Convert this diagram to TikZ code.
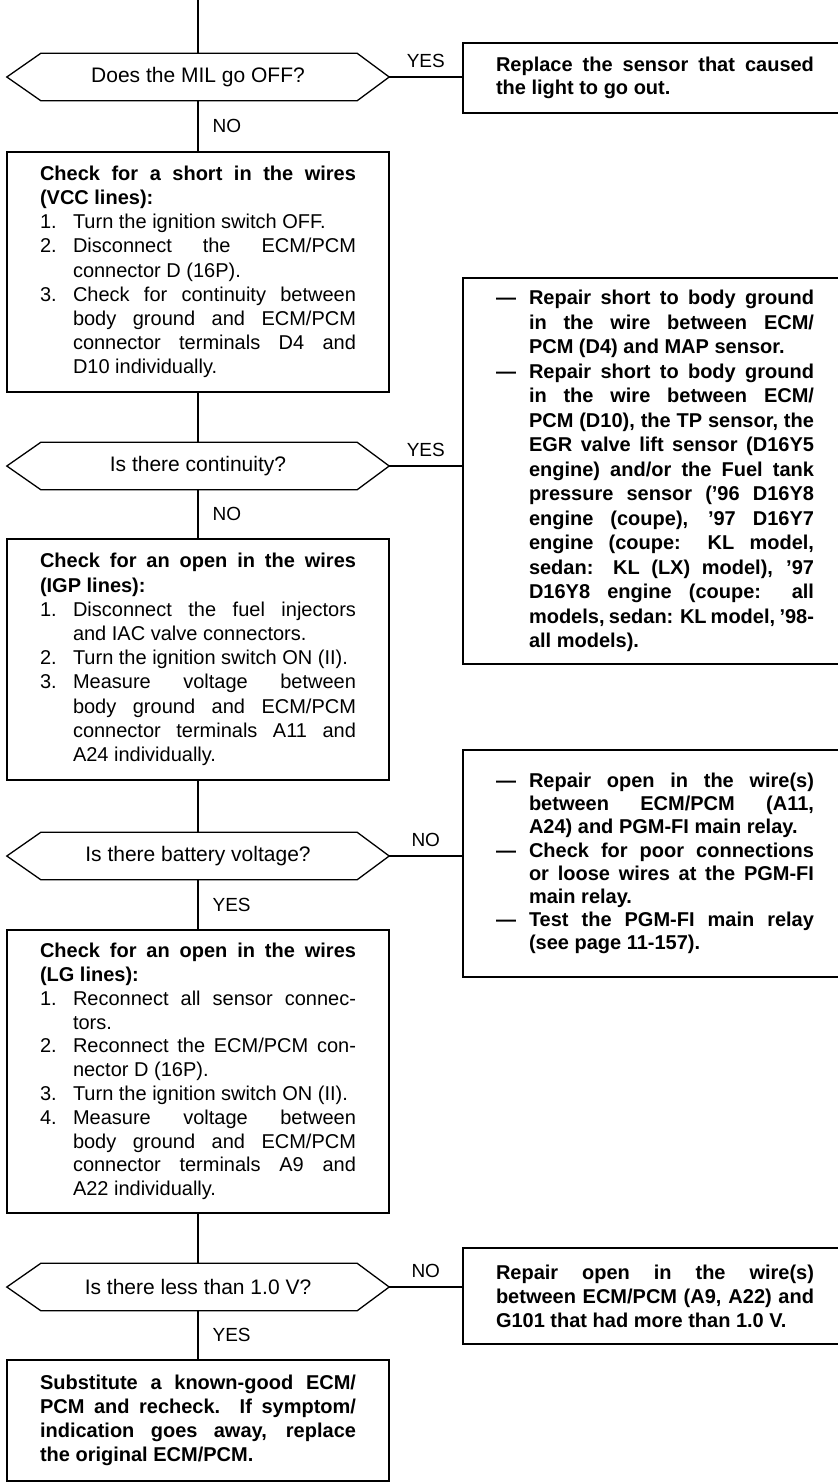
\documentclass[tikz,border=0pt]{standalone}
\usepackage{fontspec}
\setmainfont{Liberation Sans}
\newdimen\itemind
\itemind=33pt
\newcommand\tb[3]{\vbox{\hsize=#1\relax\baselineskip=#2\relax\lineskiplimit=-20pt\lineskip=0pt #3}}
\newcommand\LnJ[1]{\hbox to\hsize{#1}}
\newcommand\LnL[1]{\hbox to\hsize{#1\hfil}}
\newcommand\ItJ[2]{\hbox to\hsize{\hbox to\itemind{#1\hfil}#2}}
\newcommand\ItL[2]{\hbox to\hsize{\hbox to\itemind{#1\hfil}#2\hfil}}
\tikzset{
  conn/.style={line width=1.3pt},
  lbox/.style={draw, line width=1.3pt, minimum width=382pt, inner sep=0pt,
    font=\fontsize{20}{24}\selectfont},
  rbox/.style={draw, line width=1.3pt, minimum width=384pt, inner sep=0pt,
    font=\fontsize{20}{24}\selectfont\bfseries},
  dec/.style={minimum width=382pt, minimum height=47pt, inner sep=0pt,
    font=\fontsize{21}{24}\selectfont},
  lab/.style={inner sep=0pt, font=\fontsize{19}{19}\selectfont}
}
\begin{document}
\begin{tikzpicture}[x=1pt,y=-1pt]
\useasboundingbox (0,0) rectangle (838,1484);
\clip (0,0) rectangle (838,1484);
\fill[white] (0,0) rectangle (838,1484);

% decisions
\node[dec] (d1) at (198,77) {Does the MIL go OFF?};
\node[dec] (d2) at (198,466) {Is there continuity?};
\node[dec] (d3) at (198,856) {Is there battery voltage?};
\node[dec] (d4) at (198,1287) {Is there less than 1.0 V?};
\foreach \d in {d1,d2,d3,d4}{
  \draw[conn] (\d.west) -- ([xshift=34pt]\d.north west) -- ([xshift=-32pt]\d.north east)
    -- (\d.east) -- ([xshift=-32pt]\d.south east) -- ([xshift=34pt]\d.south west) -- cycle;
}

% left boxes
\node[lbox, minimum height=240pt] (b1) at (198,272) {\tb{316pt}{24.2pt}{%
\LnJ{\bfseries Check for a short in the wires}
\LnL{\bfseries (VCC lines):}
\ItL{1.}{Turn the ignition switch OFF.}
\ItJ{2.}{Disconnect the ECM/PCM}
\ItL{}{connector D (16P).}
\ItJ{3.}{Check for continuity between}
\ItJ{}{body ground and ECM/PCM}
\ItJ{}{connector terminals D4 and}
\ItL{}{D10 individually.}}};

\node[lbox, minimum height=241pt] (b2) at (198,659.5) {\tb{316pt}{24.2pt}{%
\LnJ{\bfseries Check for an open in the wires}
\LnL{\bfseries (IGP lines):}
\ItJ{1.}{Disconnect the fuel injectors}
\ItL{}{and IAC valve connectors.}
\ItL{2.}{Turn the ignition switch ON (II).}
\ItJ{3.}{Measure voltage between}
\ItJ{}{body ground and ECM/PCM}
\ItJ{}{connector terminals A11 and}
\ItL{}{A24 individually.}}};

\node[lbox, minimum height=283pt] (b3) at (198,1071.5) {\tb{316pt}{23.8pt}{%
\LnJ{\bfseries Check for an open in the wires}
\LnL{\bfseries (LG lines):}
\ItJ{1.}{Reconnect all sensor connec-}
\ItL{}{tors.}
\ItJ{2.}{Reconnect the ECM/PCM con-}
\ItL{}{nector D (16P).}
\ItL{3.}{Turn the ignition switch ON (II).}
\ItJ{4.}{Measure voltage between}
\ItJ{}{body ground and ECM/PCM}
\ItJ{}{connector terminals A9 and}
\ItL{}{A22 individually.}}};

\node[lbox, minimum height=121pt, font=\fontsize{20}{24}\selectfont\bfseries] (b4) at (198,1420.5) {\tb{316pt}{23.8pt}{%
\LnJ{Substitute a known-good ECM/}
\LnJ{PCM and recheck. If symptom/}
\LnJ{indication goes away, replace}
\LnL{the original ECM/PCM.}}};

% right boxes
\node[rbox, minimum height=70pt] (r1) at (655,78) {\tb{318pt}{23pt}{%
\LnJ{Replace the sensor that caused}
\LnL{the light to go out.}}};

\node[rbox, minimum height=386pt] (r2) at (655,471) {\tb{318pt}{24.5pt}{%
\ItJ{—}{Repair short to body ground}
\ItJ{}{in the wire between ECM/}
\ItL{}{PCM (D4) and MAP sensor.}
\ItJ{—}{Repair short to body ground}
\ItJ{}{in the wire between ECM/}
\ItJ{}{PCM (D10), the TP sensor, the}
\ItJ{}{EGR valve lift sensor (D16Y5}
\ItJ{}{engine) and/or the Fuel tank}
\ItJ{}{pressure sensor ('96 D16Y8}
\ItJ{}{engine (coupe), '97 D16Y7}
\ItJ{}{engine (coupe: KL model,}
\ItJ{}{sedan: KL (LX) model), '97}
\ItJ{}{D16Y8 engine (coupe: all}
\ItJ{}{models, sedan: KL model, '98-}
\ItL{}{all models).}}};

\node[rbox, minimum height=227pt] (r3) at (655,863.5) {\tb{318pt}{23.2pt}{%
\ItJ{—}{Repair open in the wire(s)}
\ItJ{}{between ECM/PCM (A11,}
\ItL{}{A24) and PGM-FI main relay.}
\ItJ{—}{Check for poor connections}
\ItJ{}{or loose wires at the PGM-FI}
\ItL{}{main relay.}
\ItJ{—}{Test the PGM-FI main relay}
\ItL{}{(see page 11-157).}}};

\node[rbox, minimum height=96pt] (r4) at (655,1296) {\tb{318pt}{24pt}{%
\LnJ{Repair open in the wire(s)}
\LnJ{between ECM/PCM (A9, A22) and}
\LnL{G101 that had more than 1.0 V.}}};

% connectors
\coordinate (top) at (198,0);
\draw[conn] (top) -- (d1.north);
\draw[conn] (d1.south) -- node[lab, right=14pt] {NO} (b1.north);
\draw[conn] (b1.south) -- (d2.north);
\draw[conn] (d2.south) -- node[lab, right=14pt] {NO} (b2.north);
\draw[conn] (b2.south) -- (d3.north);
\draw[conn] (d3.south) -- node[lab, right=14pt] {YES} (b3.north);
\draw[conn] (b3.south) -- (d4.north);
\draw[conn] (d4.south) -- node[lab, right=14pt] {YES} (b4.north);

\draw[conn] (d1.east) -- node[lab, above=9pt] {YES} (d1.east -| r1.west);
\draw[conn] (d2.east) -- node[lab, above=9pt] {YES} (d2.east -| r2.west);
\draw[conn] (d3.east) -- node[lab, above=9pt] {NO} (d3.east -| r3.west);
\draw[conn] (d4.east) -- node[lab, above=9pt] {NO} (d4.east -| r4.west);
\end{tikzpicture}
\end{document}
